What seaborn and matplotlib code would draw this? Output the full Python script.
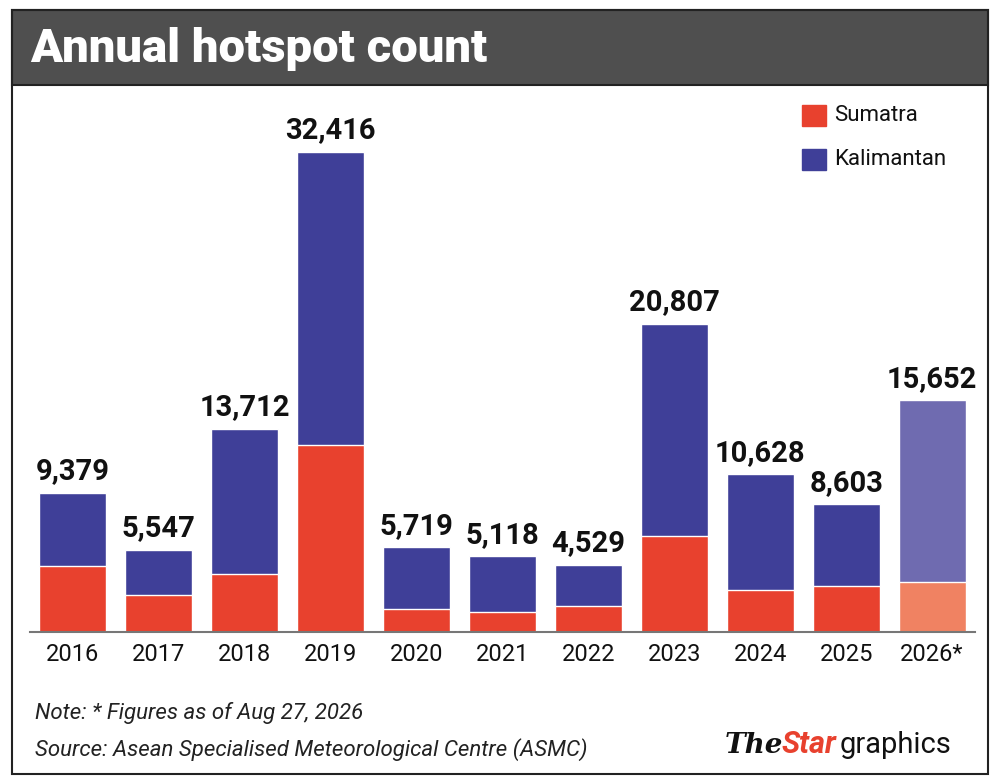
import pandas as pd
import seaborn as sns
import matplotlib
matplotlib.use('Agg')
from matplotlib import pyplot as plt
from matplotlib.patches import Rectangle

years = ['2016', '2017', '2018', '2019', '2020', '2021', '2022', '2023', '2024', '2025', '2026*']
totals = [9379, 5547, 13712, 32416, 5719, 5118, 4529, 20807, 10628, 8603, 15652]
sumatra = [4450, 2500, 3900, 12600, 1550, 1350, 1750, 6500, 2850, 3100, 3400]

blue = ['#3f3f98'] * 10 + ['#6f6bb0']
red = ['#e8412e'] * 10 + ['#f08262']

df = pd.DataFrame({'year': years, 'total': totals, 'sumatra': sumatra})

sns.set_style('white')
plt.rcParams['font.family'] = ['Roboto', 'DejaVu Sans']

fig = plt.figure(figsize=(10, 7.83), dpi=100)
ax = fig.add_axes([0.03, 0.193, 0.945, 0.681])

sns.barplot(data=df, x='year', y='total', hue='year', palette=blue, width=0.78,
            legend=False, ax=ax, saturation=1)
sns.barplot(data=df, x='year', y='sumatra', hue='year', palette=red, width=0.78,
            legend=False, ax=ax, saturation=1)

for i, v in enumerate(totals):
    ax.text(i, v + 500, f'{v:,}', ha='center', va='bottom', fontsize=21,
            fontweight='bold', color='#111111')

ax.set_ylim(0, 36000)
ax.set_xlim(-0.5, 10.5)
ax.set_yticks([])
ax.set_xlabel('')
ax.set_ylabel('')
ax.tick_params(axis='x', labelsize=17, length=0, pad=8, colors='#111111')
for s in ['top', 'right', 'left']:
    ax.spines[s].set_visible(False)
ax.spines['bottom'].set_color('#777777')
ax.spines['bottom'].set_linewidth(1.5)

# legend
for j, (lab, c) in enumerate([('Sumatra', '#e8412e'), ('Kalimantan', '#3f3f98')]):
    y = 0.852 - j * 0.056
    fig.patches.append(Rectangle((0.802, y - 0.013), 0.024, 0.027, color=c,
                                 transform=fig.transFigure))
    fig.text(0.834, y, lab, fontsize=16, va='center', color='#111111')

# title bar and frame
fig.patches.append(Rectangle((0.012, 0.892), 0.976, 0.095, facecolor='#4f4f4f',
                             edgecolor='#222222', lw=1.5, transform=fig.transFigure))
fig.patches.append(Rectangle((0.012, 0.012), 0.976, 0.975, facecolor='none',
                             edgecolor='#222222', lw=1.5, transform=fig.transFigure))
fig.text(0.03, 0.938, 'Annual hotspot count', fontsize=34, fontweight='black',
         color='white', va='center')

fig.text(0.035, 0.082, 'Note: * Figures as of Aug 27, 2026', fontsize=16,
         style='italic', color='#222222')
fig.text(0.035, 0.035, 'Source: Asean Specialised Meteorological Centre (ASMC)',
         fontsize=16, style='italic', color='#222222')
fig.text(0.725, 0.038, 'The', fontsize=20, style='italic', fontweight='bold',
         family='DejaVu Serif', color='#111111')
fig.text(0.782, 0.038, 'Star', fontsize=22, style='italic', fontweight='bold',
         color='#e8412e')
fig.text(0.84, 0.038, 'graphics', fontsize=21, color='#111111')

fig.savefig('out.png', dpi=100)
